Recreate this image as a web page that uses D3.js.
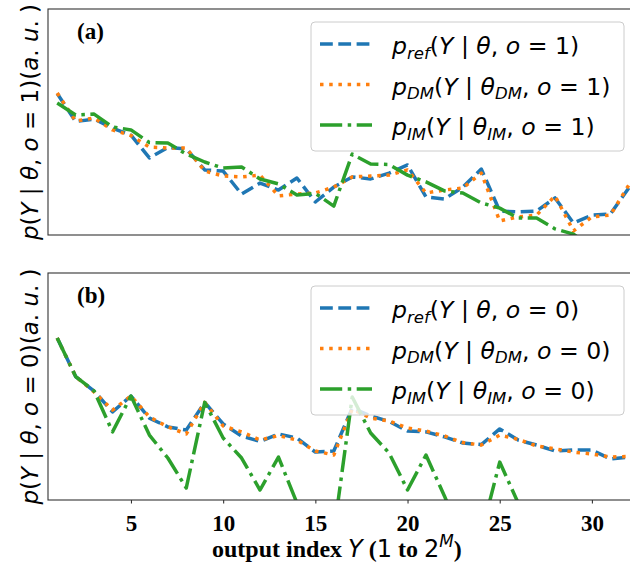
<!DOCTYPE html>
<html>
<head>
<meta charset="utf-8">
<script src="https://cdn.jsdelivr.net/npm/d3@7/dist/d3.min.js"></script>
<style>
  html, body { margin: 0; padding: 0; background: #fff; }
  svg { display: block; }
  text { white-space: pre; }
</style>
</head>
<body>
<svg id="chart" width="630" height="568"></svg>
<script>
// Output index Y (1 to 2^M, M = 5)
const outputIndex = [1,2,3,4,5,6,7,8,9,10,11,12,13,14,15,16,17,18,19,20,21,22,23,24,25,26,27,28,29,30,31,32];
const xTicks = [5, 10, 15, 20, 25, 30];

// o = 1 distributions (a.u.)
const refO1 = [77.6,65.2,66.3,62.3,59.2,49.1,53.7,53.1,43.8,43.3,33.1,38.0,34.9,40.2,29.6,36.2,40.7,39.8,42.4,46.0,31.8,30.9,36.2,44.2,25.6,25.2,25.6,31.4,20.3,23.8,24.3,35.8];
const dmO1  = [77.8,65.4,66.8,61.5,59.0,53.9,53.5,53.5,43.3,41.1,40.7,41.5,32.3,33.1,33.6,36.2,40.7,41.1,41.5,43.8,33.6,34.9,35.8,42.4,21.2,23.0,23.8,32.3,16.8,23.0,23.8,37.1];
const imO1  = [73.4,68.1,68.5,62.8,61.5,55.9,55.7,50.8,47.3,44.6,45.1,39.8,37.6,32.7,33.4,27.8,50.8,46.4,46.2,41.5,38.5,34.5,33.6,29.2,26.9,22.5,22.5,17.7,15.4,9.2,4.8,1.7];

// o = 0 distributions (a.u.)
const refO0 = [96.4,79.4,73.0,63.8,70.8,61.1,57.2,55.8,68.0,58.5,53.2,50.8,54.1,52.3,46.1,46.6,65.5,62.0,59.6,55.4,55.0,52.8,50.1,49.4,56.3,51.4,49.2,46.6,47.0,47.0,43.1,43.9];
const dmO0  = [96.4,79.4,72.6,64.6,70.8,61.6,57.2,54.1,68.0,57.6,55.0,51.4,53.4,51.4,46.6,44.8,65.1,61.1,59.8,56.7,55.4,53.2,50.3,49.2,53.6,51.7,48.8,47.5,46.1,45.3,43.9,44.2];
const imO0  = [96.4,79.4,73.0,55.0,70.8,53.6,43.5,30.3,68.0,52.3,43.5,29.4,43.9,23.7,7.4,10.5,70.4,54.5,45.7,29.4,44.8,26.8,7.4,10.0,41.7,23.7,7.4,5.2,3.9,5.2,3.0,3.0];

const COLORS = { ref: "#1f77b4", dm: "#ff7f0e", im: "#2ca02c" };
const LW = 3.5;
const DASH = { ref: "12.8,5.5", dm: "3.5,5.7", im: "22.2,5.5,3.5,5.5" };
const MATH = "'DejaVu Sans', sans-serif";
const SERIF = "'Liberation Serif', 'Times New Roman', serif";

const svg = d3.select("#chart");
svg.append("rect").attr("width", 630).attr("height", 568).attr("fill", "#fff");

const x = d3.scaleLinear().domain([0.5, 32.5]).range([48, 638]);

// Rich text: parts are [string, flags]; flags: "it" italic, "sub", "sup", "bold" (bold serif)
function rich(textSel, parts, fs) {
  let shift = 0;
  parts.forEach(([s, kind]) => {
    const flags = (kind || "").split(" ");
    const has = f => flags.indexOf(f) >= 0;
    const t = textSel.append("tspan").text(s);
    const small = has("sub") || has("sup");
    let target = 0;
    if (has("sub")) target = 0.2 * fs;
    if (has("sup")) target = -0.4 * fs;
    if (target !== shift) { t.attr("dy", target - shift); shift = target; }
    t.attr("font-size", small ? fs * 0.7 : fs);
    if (has("bold")) {
      t.attr("font-family", SERIF).attr("font-weight", "bold");
    } else {
      t.attr("font-family", MATH).attr("font-weight", "normal");
      if (has("it")) t.attr("font-style", "italic");
    }
  });
}

const panels = [
  {
    id: "a", top: 9, bottom: 235, domain: [15, 115], o: "1",
    series: [
      { key: "ref", values: refO1 },
      { key: "dm", values: dmO1 },
      { key: "im", values: imO1 }
    ],
    legendTop: 22, showTicks: false
  },
  {
    id: "b", top: 273, bottom: 500, domain: [25, 125], o: "0",
    series: [
      { key: "ref", values: refO0 },
      { key: "dm", values: dmO0 },
      { key: "im", values: imO0 }
    ],
    legendTop: 286, showTicks: true
  }
];

panels.forEach(p => {
  const y = d3.scaleLinear().domain(p.domain).range([p.bottom, p.top]);
  const g = svg.append("g");

  const clipId = "clip-" + p.id;
  svg.append("defs").append("clipPath").attr("id", clipId)
    .append("rect").attr("x", x.range()[0]).attr("y", p.top)
    .attr("width", x.range()[1] - x.range()[0]).attr("height", p.bottom - p.top);

  const line = d3.line().x((d, i) => x(outputIndex[i])).y(d => y(d));

  const lines = g.append("g").attr("clip-path", `url(#${clipId})`);
  p.series.forEach(s => {
    lines.append("path")
      .attr("d", line(s.values))
      .attr("fill", "none")
      .attr("stroke", COLORS[s.key])
      .attr("stroke-width", LW)
      .attr("stroke-dasharray", DASH[s.key])
      .attr("stroke-linecap", "butt")
      .attr("stroke-linejoin", "round");
  });

  // axes frame
  g.append("rect")
    .attr("x", x.range()[0]).attr("y", p.top)
    .attr("width", x.range()[1] - x.range()[0]).attr("height", p.bottom - p.top)
    .attr("fill", "none").attr("stroke", "#333").attr("stroke-width", 1.1);

  if (p.showTicks) {
    const axis = d3.axisBottom(x).tickValues(xTicks).tickSize(3.5).tickPadding(6).tickFormat(d3.format("d"));
    const ax = g.append("g").attr("transform", `translate(0,${p.bottom})`).call(axis);
    ax.select(".domain").remove();
    ax.selectAll(".tick line").attr("stroke", "#333").attr("stroke-width", 1.1);
    ax.selectAll(".tick text")
      .attr("font-family", SERIF).attr("font-weight", "bold")
      .attr("font-size", 23).attr("fill", "#000").attr("dy", "0.95em");
  }

  // panel tag
  g.append("text").attr("x", 77).attr("y", p.top + 30)
    .attr("font-family", SERIF).attr("font-weight", "bold").attr("font-size", 23)
    .attr("fill", "#000").text(`(${p.id})`);

  // y label
  const cy = (p.top + p.bottom) / 2;
  const yl = g.append("text")
    .attr("transform", `translate(38,${cy}) rotate(-90)`)
    .attr("text-anchor", "middle").attr("fill", "#000");
  rich(yl, [["p", "it"], ["(", ""], ["Y", "it"], [" | ", ""], ["θ", "it"], [", ", ""], ["o", "it"],
            [" = ", ""], [p.o, ""], [")(", ""], ["a", "it"], [". ", ""], ["u", "it"], [". )", ""]], 23);

  // legend
  const lg = g.append("g");
  lg.append("rect")
    .attr("x", 311).attr("y", p.legendTop).attr("width", 313).attr("height", 129)
    .attr("rx", 4).attr("fill", "#fff").attr("fill-opacity", 0.8)
    .attr("stroke", "#ccc").attr("stroke-width", 1);

  const sub = { ref: "ref", dm: "DM", im: "IM" };
  p.series.forEach((s, k) => {
    const base = p.legendTop + 32 + k * 40.5;
    lg.append("line")
      .attr("x1", 320).attr("x2", 372)
      .attr("y1", base - 10).attr("y2", base - 10)
      .attr("stroke", COLORS[s.key]).attr("stroke-width", LW)
      .attr("stroke-dasharray", DASH[s.key]).attr("stroke-linecap", "butt");
    const t = lg.append("text").attr("x", 392).attr("y", base).attr("fill", "#000");
    const parts = [["p", "it"], [sub[s.key], "it sub"], ["(", ""], ["Y", "it"], [" | ", ""], ["θ", "it"]];
    if (s.key !== "ref") parts.push([sub[s.key], "it sub"]);
    parts.push([", ", ""], ["o", "it"], [" = ", ""], [p.o, ""], [")", ""]);
    rich(t, parts, 23.6);
  });
});

// x label
const xl = svg.append("text").attr("x", 212).attr("y", 557).attr("fill", "#000");
rich(xl, [["output index ", "bold"], ["Y", "it"], [" (", "bold"], ["1", ""], [" to ", "bold"], ["2", ""], ["M", "it sup"], [")", "bold"]], 24);
</script>
</body>
</html>
